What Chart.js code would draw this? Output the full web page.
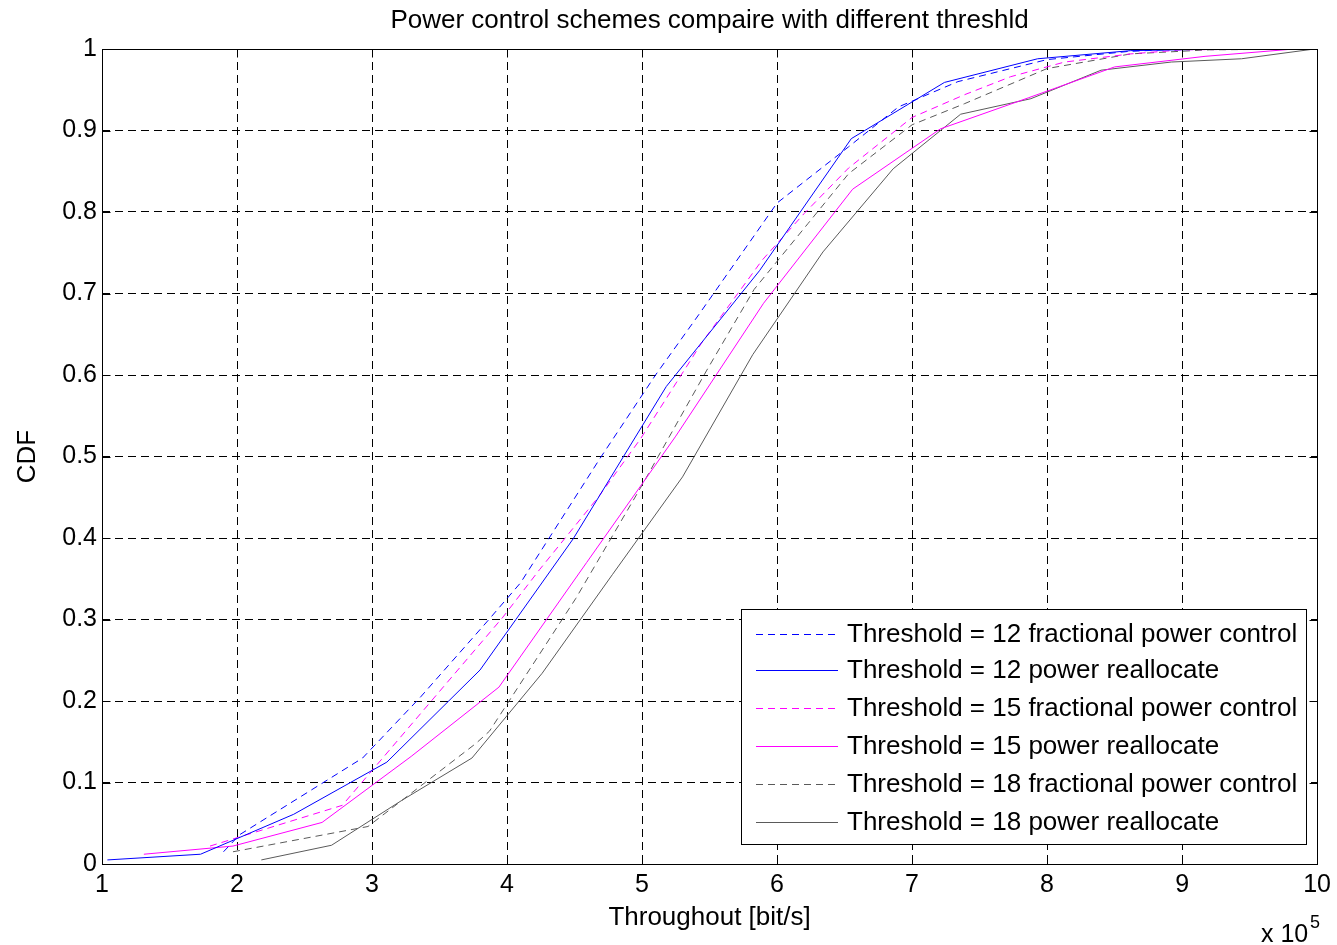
<!DOCTYPE html>
<html>
<head>
<meta charset="utf-8">
<title>CDF throughput</title>
<script src="https://cdn.jsdelivr.net/npm/chart.js@4.4.0/dist/chart.umd.min.js"></script>
<style>
html,body{margin:0;padding:0;background:#fff;}
canvas{display:block;}
</style>
</head>
<body>
<canvas id="g_cdf" width="1337" height="945"></canvas>
<script>
// datos (x en unidades de 10^5 bit/s)
const titulo = 'Power control schemes compaire with different threshld';
const etiquetas = [
    "Threshold = 12 fractional power control",
    "Threshold = 12 power reallocate",
    "Threshold = 15 fractional power control",
    "Threshold = 15 power reallocate",
    "Threshold = 18 fractional power control",
    "Threshold = 18 power reallocate"
];

const x_ticks = [1,2,3,4,5,6,7,8,9,10];
const y_ticks = [0,0.1,0.2,0.3,0.4,0.5,0.6,0.7,0.8,0.9,1];

const x_b12f = [1.90,2.02,2.93,3.36,3.85,4.10,4.69,5.10,5.42,6.00,6.53,6.90,7.34,8.00,8.60,9.00,10.0];
const y_b12f = [0.015,0.036,0.130,0.205,0.297,0.345,0.498,0.600,0.674,0.811,0.880,0.929,0.960,0.987,0.997,1.0,1.0];

const x_b12r = [1.04,1.73,2.42,3.11,3.80,4.49,5.18,5.87,6.55,7.24,7.93,8.62,9.31,10.0];
const y_b12r = [0.005,0.012,0.061,0.125,0.238,0.399,0.586,0.728,0.890,0.959,0.988,0.998,1.0,1.0];

const x_m15f = [1.80,2.78,3.97,4.24,4.68,4.99,5.44,5.89,6.20,6.53,7.00,7.39,7.73,8.13,8.62,9.00,10.0];
const y_m15f = [0.022,0.072,0.303,0.361,0.451,0.522,0.639,0.741,0.798,0.854,0.916,0.944,0.966,0.984,0.994,0.999,1.0];

const x_m15r = [1.31,1.97,2.63,3.29,3.94,4.59,5.25,5.90,6.56,7.21,7.86,8.50,9.17,9.83];
const y_m15r = [0.012,0.022,0.051,0.132,0.217,0.370,0.525,0.688,0.828,0.902,0.940,0.978,0.991,1.0];

const x_g18f = [1.97,2.97,3.77,3.87,4.51,4.98,5.48,5.83,6.23,6.53,7.00,7.39,8.00,8.62,9.20,10.0];
const y_g18f = [0.015,0.046,0.148,0.163,0.326,0.459,0.606,0.705,0.786,0.847,0.907,0.933,0.976,0.994,0.999,1.0];

const x_g18r = [2.18,2.70,3.22,3.74,4.26,4.78,5.30,5.82,6.34,6.86,7.36,7.88,8.40,8.92,9.44,9.98];
const y_g18r = [0.005,0.023,0.078,0.130,0.234,0.355,0.475,0.625,0.751,0.853,0.920,0.939,0.974,0.984,0.988,1.0];

const azul = '#0000ff';
const magenta = '#ff00ff';
const gris = '#5a5a5a';
const colores = [azul, azul, magenta, magenta, gris, gris];
const rayado = [true, false, true, false, true, false];
const raya = [7,5];

const fuente = "'Liberation Sans', Arial, sans-serif";
Chart.defaults.font.family = fuente;
Chart.defaults.color = '#000';

function puntos(xs, ys){
    let p = [];
    for(let i = 0; i < xs.length; i++){
        p.push({x: xs[i], y: ys[i]});
    }
    return p;
}

function serie(i, xs, ys){
    return {
        label: etiquetas[i],
        data: puntos(xs, ys),
        borderColor: colores[i],
        backgroundColor: colores[i],
        borderWidth: 1,
        borderDash: rayado[i] ? raya : [],
        pointRadius: 0,
        tension: 0,
        fill: false
    };
}

// titulo, marco, ticks hacia adentro, leyenda y "x 10^5"
const marco = {
    id: 'marco',
    afterDraw(chart){
        const ctx = chart.ctx;
        const a = chart.chartArea;
        const sx = chart.scales.x;
        const sy = chart.scales.y;
        const L = Math.round(a.left) + 0.5, R = Math.round(a.right) + 0.5;
        const T = Math.round(a.top) + 0.5, B = Math.round(a.bottom) + 0.5;
        ctx.save();

        ctx.fillStyle = '#000';
        ctx.font = "26px " + fuente;
        ctx.textAlign = 'center';
        ctx.textBaseline = 'middle';
        ctx.fillText(titulo, (a.left + a.right) / 2, 21);

        ctx.strokeStyle = '#000';
        ctx.lineWidth = 1;
        ctx.setLineDash([]);
        ctx.strokeRect(L, T, R - L, B - T);

        const largo = 8;
        ctx.beginPath();
        x_ticks.forEach(v => {
            let px = Math.round(sx.getPixelForValue(v)) + 0.5;
            ctx.moveTo(px, B); ctx.lineTo(px, B - largo);
            ctx.moveTo(px, T); ctx.lineTo(px, T + largo);
        });
        y_ticks.forEach(v => {
            let py = Math.round(sy.getPixelForValue(v)) + 0.5;
            ctx.moveTo(L, py); ctx.lineTo(L + largo, py);
            ctx.moveTo(R, py); ctx.lineTo(R - largo, py);
        });
        ctx.stroke();

        // leyenda
        const lw = 565, lh = 235;
        const lx = 741;
        const ly = Math.round(a.bottom - 255);
        ctx.fillStyle = '#fff';
        ctx.fillRect(lx, ly, lw, lh);
        ctx.strokeStyle = '#000';
        ctx.strokeRect(lx + 0.5, ly + 0.5, lw, lh);
        ctx.textAlign = 'left';
        for(let i = 0; i < etiquetas.length; i++){
            let yy = Math.round((ly + 24 + i * 37.6) / 2) * 2;
            ctx.fillStyle = colores[i];
            if(rayado[i]){
                for(let xx = lx + 15; xx < lx + 97; xx += raya[0] + raya[1]){
                    ctx.fillRect(xx, yy, Math.min(raya[0], lx + 97 - xx), 1);
                }
            }else{
                ctx.fillRect(lx + 15, yy, 82, 1);
            }
            ctx.fillStyle = '#000';
            ctx.fillText(etiquetas[i], lx + 106, yy + 1);
        }

        // multiplicador del eje x
        ctx.textBaseline = 'alphabetic';
        ctx.font = "25px " + fuente;
        ctx.fillText("x 10", 1261, 942);
        ctx.font = "18px " + fuente;
        ctx.fillText("5", 1310, 928);
        ctx.restore();
    }
};

let ctx = document.getElementById('g_cdf').getContext('2d');
let g_cdf = new Chart(ctx, {
    type: 'line',
    data: {
        datasets: [
            serie(0, x_b12f, y_b12f),
            serie(1, x_b12r, y_b12r),
            serie(2, x_m15f, y_m15f),
            serie(3, x_m15r, y_m15r),
            serie(4, x_g18f, y_g18f),
            serie(5, x_g18r, y_g18r)
        ]
    },
    options: {
        responsive: false,
        animation: false,
        layout: {
            padding: {left: 0, right: 17, top: 49, bottom: 0}
        },
        plugins: {
            legend: {display: false},
            tooltip: {enabled: false},
            title: {display: false}
        },
        scales: {
            x: {
                type: 'linear',
                min: 1,
                max: 10,
                afterBuildTicks: function(s){
                    s.ticks = x_ticks.map(v => ({value: v}));
                },
                afterFit: function(s){ s.height = 81; },
                ticks: {
                    font: {size: 25},
                    padding: 6,
                    maxRotation: 0,
                    callback: v => String(v)
                },
                grid: {color: '#000', lineWidth: 1, drawTicks: false},
                border: {display: false, dash: [8,5]},
                title: {
                    display: true,
                    text: 'Throughout [bit/s]',
                    font: {size: 26},
                    padding: {top: 0, bottom: 12}
                }
            },
            y: {
                min: 0,
                max: 1,
                afterBuildTicks: function(s){
                    s.ticks = y_ticks.map(v => ({value: v}));
                },
                afterFit: function(s){ s.width = 102; },
                ticks: {
                    font: {size: 25},
                    padding: 5,
                    callback: v => (v === 0 || v === 1) ? String(v) : v.toFixed(1)
                },
                grid: {color: '#000', lineWidth: 1, drawTicks: false},
                border: {display: false, dash: [8,5]},
                title: {
                    display: true,
                    text: 'CDF',
                    font: {size: 26},
                    padding: {top: 12, bottom: 0}
                }
            }
        }
    },
    plugins: [marco]
});
</script>
</body>
</html>
